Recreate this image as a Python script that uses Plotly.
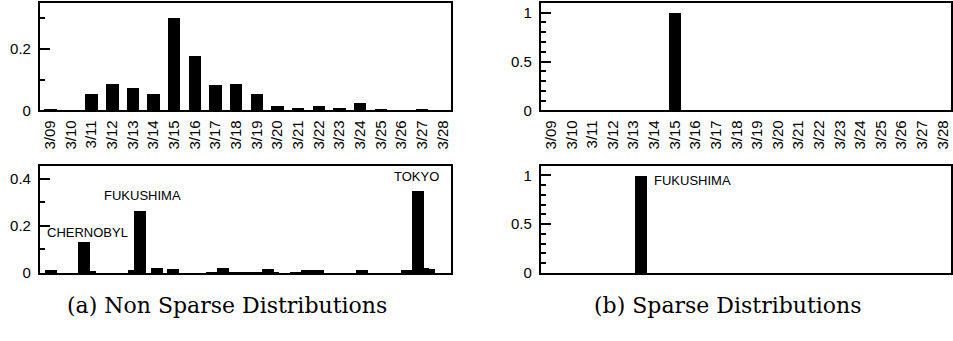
import plotly.graph_objects as go

# ---- data ---------------------------------------------------------------
dates = ["3/09", "3/10", "3/11", "3/12", "3/13", "3/14", "3/15", "3/16", "3/17", "3/18",
         "3/19", "3/20", "3/21", "3/22", "3/23", "3/24", "3/25", "3/26", "3/27", "3/28"]

# non sparse: distribution over days
dense_time = [0.002, 0.0, 0.053, 0.085, 0.072, 0.053, 0.300, 0.178, 0.082, 0.087,
              0.054, 0.015, 0.007, 0.015, 0.008, 0.023, 0.005, 0.001, 0.004, 0.0]

# non sparse: distribution over topic bins
dense_bins = [2, 8, 9, 17, 18, 21, 24, 31, 33, 35, 37, 39, 41, 42, 46, 48, 50, 58, 66, 68, 69, 70]
dense_vals = [0.014, 0.133, 0.009, 0.014, 0.263, 0.025, 0.018, 0.005, 0.023, 0.003, 0.002, 0.004,
              0.020, 0.004, 0.002, 0.014, 0.016, 0.013, 0.013, 0.350, 0.021, 0.017]

# sparse: everything on a single day / single bin
sparse_time = [0, 0, 0, 0, 0, 0, 1.0, 0, 0, 0, 0, 0, 0, 0, 0, 0, 0, 0, 0, 0]
sparse_bins = [18]
sparse_vals = [1.0]

dense_labels = [("CHERNOBYL", 8.5, 0.171), ("FUKUSHIMA", 18.4, 0.326), ("TOKYO", 67.8, 0.408)]
sparse_labels = [("FUKUSHIMA", 20.1, 0.945)]

captions = ["(a) Non Sparse Distributions", "(b) Sparse Distributions"]

# ---- layout helpers -----------------------------------------------------
W, H = 953, 341
SANS = "Liberation Sans, Arial, Helvetica, sans-serif"
SERIF = "DejaVu Serif, Liberation Serif, serif"


def px_x(a, b):
    return [a / W, min(b / W, 1.0)]


def px_y(top, bottom):
    return [1 - bottom / H, 1 - top / H]


fig = go.Figure()

panels = [
    # (xaxis id, yaxis id, x domain, y domain)
    ("x", "y", px_x(40, 452), px_y(3, 113)),
    ("x2", "y2", px_x(542, 954), px_y(3, 113)),
    ("x3", "y3", px_x(40, 452), px_y(169.5, 279.5)),
    ("x4", "y4", px_x(542, 954), px_y(169.5, 279.5)),
]

fig.add_trace(go.Bar(x=dates, y=dense_time, width=0.6, xaxis="x", yaxis="y"))
fig.add_trace(go.Bar(x=dates, y=sparse_time, width=0.6, xaxis="x2", yaxis="y2"))
fig.add_trace(go.Bar(x=dense_bins, y=dense_vals, width=2.15, xaxis="x3", yaxis="y3"))
fig.add_trace(go.Bar(x=sparse_bins, y=sparse_vals, width=2.15, xaxis="x4", yaxis="y4"))
fig.update_traces(marker=dict(color="black", line=dict(width=0)), showlegend=False)

frame = dict(showline=True, mirror=True, linewidth=2, linecolor="black",
             showgrid=False, zeroline=False)
tick_font = dict(family=SANS, size=15, color="black")

y_specs = {
    "y": dict(range=[0, 0.35], tickvals=[0, 0.2], ticktext=["0", "0.2"], minor_vals=[0.1, 0.3]),
    "y2": dict(range=[0, 1.1], tickvals=[0, 0.5, 1], ticktext=["0", "0.5", "1"],
               minor_vals=[0.1, 0.2, 0.3, 0.4, 0.6, 0.7, 0.8, 0.9]),
    "y3": dict(range=[0, 0.455], tickvals=[0, 0.2, 0.4], ticktext=["0", "0.2", "0.4"],
               minor_vals=[0.1, 0.3]),
    "y4": dict(range=[0, 1.1], tickvals=[0, 0.5, 1], ticktext=["0", "0.5", "1"],
               minor_vals=[0.1, 0.2, 0.3, 0.4, 0.6, 0.7, 0.8, 0.9]),
}

for xa, ya, xd, yd in panels:
    xkey = "xaxis" + xa[1:]
    ykey = "yaxis" + ya[1:]
    spec = y_specs[ya]
    if xa in ("x", "x2"):
        xcfg = dict(domain=xd, anchor=ya, type="category", range=[-0.5, 19.4],
                    tickangle=-90, ticks="", tickfont=tick_font, ticklabelstandoff=2, **frame)
    else:
        xcfg = dict(domain=xd, anchor=ya, range=[0, 74], showticklabels=False,
                    ticks="", **frame)
    ycfg = dict(domain=yd, anchor=xa, range=spec["range"], tickmode="array",
                tickvals=spec["tickvals"], ticktext=spec["ticktext"],
                ticks="inside", ticklen=10, tickwidth=2, tickcolor="black",
                minor=dict(tickmode="array", tickvals=spec["minor_vals"], ticks="inside",
                           ticklen=5, tickwidth=1.5, tickcolor="black"),
                tickfont=tick_font, ticklabelstandoff=4, **frame)
    fig.update_layout({xkey: xcfg, ykey: ycfg})

annotations = []
for text, x, y in dense_labels:
    annotations.append(dict(text=text, x=x, y=y, xref="x3", yref="y3", showarrow=False,
                            xanchor="center", yanchor="middle",
                            font=dict(family=SANS, size=13, color="black")))
for text, x, y in sparse_labels:
    annotations.append(dict(text=text, x=x, y=y, xref="x4", yref="y4", showarrow=False,
                            xanchor="left", yanchor="middle",
                            font=dict(family=SANS, size=13, color="black")))
for text, cx in zip(captions, [227, 730]):
    annotations.append(dict(text=text, x=cx / W, y=1 - 313 / H, xref="paper", yref="paper",
                            showarrow=False, xanchor="center", yanchor="middle",
                            font=dict(family=SERIF, size=22, color="black")))

fig.update_layout(
    width=W, height=H,
    margin=dict(l=0, r=0, t=0, b=0),
    paper_bgcolor="white", plot_bgcolor="white",
    bargap=0, barmode="overlay",
    annotations=annotations,
)

fig.write_html("out.html", config={"displayModeBar": False})
